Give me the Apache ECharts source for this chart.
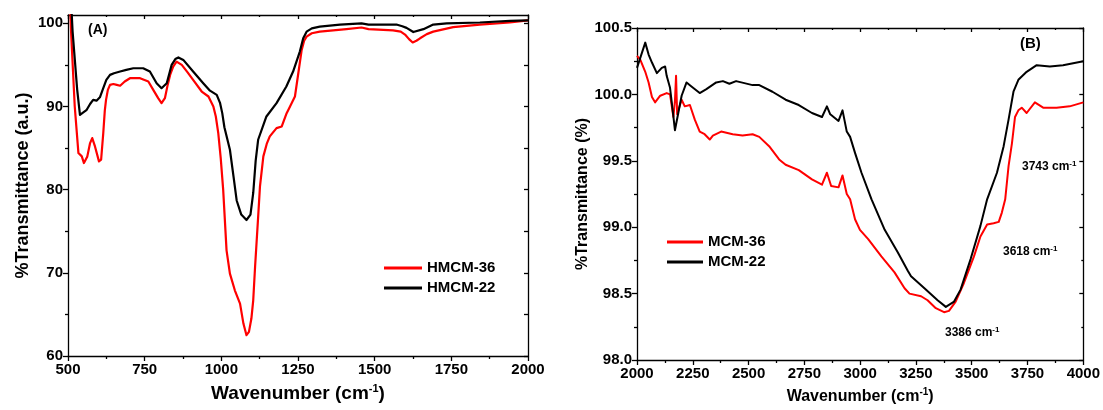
<!DOCTYPE html>
<html>
<head>
<meta charset="utf-8">
<script src="https://cdn.jsdelivr.net/npm/echarts@6/dist/echarts.min.js"></script>
<style>
html,body{margin:0;padding:0;background:#fff;}
#chart{width:1103px;height:410px;}
</style>
</head>
<body>
<div id="chart"></div>
<script>
// ---- Panel A (500-2000 cm-1) ----
const hmcm36Wn = [500, 510, 522, 534, 545, 552, 563, 572, 579, 588, 601, 608, 615, 620, 624, 630, 637, 648, 659, 670, 685, 702, 735, 762, 778, 794, 805, 816, 825, 833, 843, 854, 871, 890, 908, 936, 958, 974, 982, 990, 998, 1006, 1017, 1028, 1044, 1061, 1072, 1082, 1090, 1098, 1104, 1110, 1120, 1126, 1137, 1148, 1158, 1180, 1197, 1213, 1224, 1240, 1251, 1262, 1270, 1278, 1295, 1321, 1408, 1457, 1480, 1560, 1585, 1599, 1612, 1624, 1636, 1648, 1670, 1691, 1756, 1843, 1941, 2000];
const hmcm36T  = [110, 99, 90, 84.4, 84.0, 83.2, 84.0, 85.6, 86.2, 85.2, 83.4, 83.6, 86.8, 89.5, 90.8, 92.0, 92.6, 92.7, 92.6, 92.5, 93.0, 93.4, 93.4, 93.0, 92.0, 91.0, 90.4, 91.0, 92.6, 93.8, 94.8, 95.4, 95.0, 94.1, 93.2, 91.8, 91.2, 90.0, 88.8, 86.8, 83.8, 80.0, 72.7, 69.9, 67.9, 66.3, 63.9, 62.5, 62.9, 64.5, 66.7, 70.7, 76.7, 80.4, 84.0, 85.5, 86.4, 87.4, 87.6, 89.2, 90.0, 91.2, 94.0, 96.8, 97.9, 98.4, 98.8, 99.0, 99.3, 99.5, 99.3, 99.15, 99.0, 98.65, 98.1, 97.7, 97.9, 98.2, 98.7, 99.0, 99.55, 99.85, 100.1, 100.35];
const hmcm22Wn = [500, 515, 530, 539, 550, 561, 572, 582, 593, 604, 615, 625, 637, 650, 670, 690, 713, 745, 767, 789, 805, 822, 838, 850, 860, 876, 908, 941, 963, 985, 996, 1003, 1010, 1028, 1040, 1050, 1065, 1082, 1095, 1104, 1112, 1120, 1147, 1180, 1212, 1234, 1256, 1267, 1278, 1295, 1321, 1387, 1457, 1480, 1571, 1590, 1604, 1626, 1659, 1691, 1735, 1843, 1941, 2000];
const hmcm22T  = [110, 99, 92, 89.0, 89.3, 89.6, 90.3, 90.8, 90.7, 91.1, 92.2, 93.2, 93.8, 94.0, 94.2, 94.4, 94.6, 94.6, 94.2, 92.8, 92.2, 92.8, 95.0, 95.7, 95.9, 95.6, 94.2, 92.8, 91.9, 91.4, 90.4, 89.2, 87.5, 84.8, 81.5, 78.7, 77.0, 76.35, 77.0, 79.6, 83.5, 86.0, 88.8, 90.4, 92.4, 94.2, 96.6, 98.2, 99.0, 99.4, 99.6, 99.85, 100.0, 99.85, 99.85, 99.65, 99.45, 98.95, 99.3, 99.85, 100.0, 100.1, 100.3, 100.35];

// ---- Panel B (2000-4000 cm-1) ----
const mcm36Wn = [2000, 2015, 2037, 2052, 2067, 2081, 2104, 2133, 2148, 2163, 2170, 2175, 2180, 2185, 2200, 2214, 2237, 2259, 2281, 2303, 2326, 2340, 2377, 2429, 2473, 2518, 2548, 2592, 2637, 2666, 2725, 2784, 2829, 2851, 2870, 2903, 2921, 2940, 2955, 2977, 2999, 3036, 3095, 3154, 3199, 3221, 3273, 3302, 3339, 3376, 3398, 3428, 3465, 3510, 3539, 3569, 3598, 3621, 3635, 3650, 3665, 3680, 3694, 3709, 3724, 3746, 3783, 3820, 3880, 3939, 4000];
const mcm36T  = [100.29, 100.26, 100.17, 100.09, 99.98, 99.94, 99.99, 100.01, 100.0, 99.83, 99.95, 100.14, 99.85, 99.88, 99.96, 99.91, 99.92, 99.81, 99.72, 99.70, 99.66, 99.69, 99.72, 99.70, 99.69, 99.70, 99.68, 99.61, 99.51, 99.47, 99.43, 99.36, 99.32, 99.41, 99.31, 99.30, 99.39, 99.25, 99.21, 99.06, 98.98, 98.91, 98.78, 98.66, 98.54, 98.50, 98.48, 98.45, 98.39, 98.36, 98.37, 98.44, 98.58, 98.78, 98.93, 99.02, 99.03, 99.04, 99.11, 99.21, 99.46, 99.63, 99.83, 99.88, 99.90, 99.86, 99.94, 99.90, 99.90, 99.91, 99.94];
const mcm22Wn = [2000, 2037, 2052, 2067, 2089, 2111, 2126, 2133, 2148, 2160, 2170, 2185, 2200, 2222, 2244, 2281, 2311, 2355, 2385, 2414, 2444, 2518, 2548, 2607, 2666, 2725, 2784, 2829, 2851, 2866, 2903, 2921, 2940, 2955, 2977, 3006, 3051, 3110, 3169, 3214, 3228, 3288, 3347, 3384, 3421, 3450, 3495, 3539, 3569, 3613, 3643, 3665, 3687, 3709, 3746, 3791, 3850, 3909, 4000];
const mcm22T  = [100.2, 100.39, 100.30, 100.24, 100.16, 100.2, 100.21, 100.14, 100.05, 99.88, 99.73, 99.86, 99.99, 100.09, 100.06, 100.01, 100.04, 100.09, 100.10, 100.08, 100.10, 100.07, 100.07, 100.02, 99.96, 99.92, 99.86, 99.83, 99.91, 99.85, 99.80, 99.88, 99.72, 99.68, 99.56, 99.41, 99.21, 98.98, 98.81, 98.67, 98.63, 98.54, 98.45, 98.40, 98.44, 98.53, 98.76, 99.01, 99.21, 99.41, 99.61, 99.81, 100.02, 100.11, 100.17, 100.22, 100.21, 100.22, 100.25];

const yTicksA = [60, 70, 80, 90, 100];
const yMinorA = [65, 75, 85, 95];
const annotationsB = [
  {wn: '3743', left: 1022, top: 160},
  {wn: '3618', left: 1003, top: 245},
  {wn: '3386', left: 945, top: 326}
];

const zip = (a, b) => a.map((v, i) => [v, b[i]]);
const FONT = '"Liberation Sans", Arial, sans-serif';
const axisLineStyle = {color: '#000', width: 1.3};

function mainX(grid, min, max, interval, name, nameSize) {
  return {
    type: 'value', gridIndex: grid, min: min, max: max, interval: interval,
    position: 'bottom',
    axisLine: {show: true, lineStyle: axisLineStyle},
    axisTick: {show: true, inside: false, length: 5, lineStyle: axisLineStyle},
    minorTick: {show: true, splitNumber: 2, length: 3, lineStyle: axisLineStyle},
    axisLabel: {color: '#000', fontFamily: FONT, fontWeight: 'bold', fontSize: 15, margin: 6,
      formatter: v => String(v)},
    splitLine: {show: false},
    name: name, nameLocation: 'middle', nameGap: 27,
    nameTextStyle: {color: '#000', fontFamily: FONT, fontWeight: 'bold', fontSize: nameSize,
      rich: {sup: {fontSize: Math.round(nameSize * 0.6), fontWeight: 'bold', fontFamily: FONT, color: '#000', verticalAlign: 'top', padding: [0, 0, nameSize * 0.55, 0]}}}
  };
}
function mirrorX(grid, min, max, interval) {
  return {
    type: 'value', gridIndex: grid, min: min, max: max, interval: interval, position: 'top',
    axisLine: {show: true, lineStyle: axisLineStyle},
    axisTick: {show: true, inside: true, length: 4, lineStyle: axisLineStyle},
    minorTick: {show: true, splitNumber: 2, length: 2, lineStyle: axisLineStyle},
    axisLabel: {show: false}, splitLine: {show: false}
  };
}

const option = {
  animation: false,
  backgroundColor: '#fff',
  grid: [
    {left: 68, top: 15, width: 460, height: 341},
    {left: 637, top: 28, width: 450, height: 332}
  ],
  xAxis: [
    mainX(0, 500, 2000, 250, 'Wavenumber (cm{sup|-1})', 19),
    mirrorX(0, 500, 2000, 250),
    mainX(1, 2000, 4000, 250, 'Wavenumber (cm{sup|-1})', 16),
    mirrorX(1, 2000, 4000, 250)
  ],
  yAxis: [
    {
      type: 'value', gridIndex: 0, min: 60, max: 101, position: 'left',
      axisLine: {show: true, lineStyle: axisLineStyle},
      axisTick: {show: true, inside: false, length: 5, lineStyle: axisLineStyle, customValues: yTicksA},
      axisLabel: {color: '#000', fontFamily: FONT, fontWeight: 'bold', fontSize: 15, margin: 5, customValues: yTicksA},
      splitLine: {show: false},
      name: '%Transmittance (a.u.)', nameLocation: 'middle', nameGap: 36,
      nameTextStyle: {color: '#000', fontFamily: FONT, fontWeight: 'bold', fontSize: 18}
    },
    {
      type: 'value', gridIndex: 0, min: 60, max: 101, position: 'left',
      axisLine: {show: false},
      axisTick: {show: true, inside: false, length: 3, lineStyle: axisLineStyle, customValues: yMinorA},
      axisLabel: {show: false, customValues: []}, splitLine: {show: false}
    },
    {
      type: 'value', gridIndex: 0, min: 60, max: 101, position: 'right',
      axisLine: {show: true, lineStyle: axisLineStyle},
      axisTick: {show: true, inside: true, length: 4, lineStyle: axisLineStyle, customValues: yMinorA.concat(yTicksA)},
      axisLabel: {show: false, customValues: []}, splitLine: {show: false}
    },
    {
      type: 'value', gridIndex: 1, min: 98, max: 100.5, interval: 0.5, position: 'left',
      axisLine: {show: true, lineStyle: axisLineStyle},
      axisTick: {show: true, inside: false, length: 5, lineStyle: axisLineStyle},
      minorTick: {show: true, splitNumber: 2, length: 3, lineStyle: axisLineStyle},
      axisLabel: {color: '#000', fontFamily: FONT, fontWeight: 'bold', fontSize: 15, margin: 5,
        formatter: v => v.toFixed(1)},
      splitLine: {show: false},
      name: '%Transmittance (%)', nameLocation: 'middle', nameGap: 43,
      nameTextStyle: {color: '#000', fontFamily: FONT, fontWeight: 'bold', fontSize: 16}
    },
    {
      type: 'value', gridIndex: 1, min: 98, max: 100.5, interval: 0.5, position: 'right',
      axisLine: {show: true, lineStyle: axisLineStyle},
      axisTick: {show: true, inside: true, length: 4, lineStyle: axisLineStyle},
      minorTick: {show: true, splitNumber: 2, length: 2, lineStyle: axisLineStyle},
      axisLabel: {show: false}, splitLine: {show: false}
    }
  ],
  legend: [
    {
      data: ['HMCM-36', 'HMCM-22'], orient: 'vertical', left: 379, top: 253,
      itemWidth: 38, itemHeight: 3, itemGap: 0, icon: 'rect',
      textStyle: {color: '#000', fontFamily: FONT, fontWeight: 'bold', fontSize: 15, lineHeight: 20}
    },
    {
      data: ['MCM-36', 'MCM-22'], orient: 'vertical', left: 662, top: 227,
      itemWidth: 36, itemHeight: 3, itemGap: 0, icon: 'rect',
      textStyle: {color: '#000', fontFamily: FONT, fontWeight: 'bold', fontSize: 15, lineHeight: 20}
    }
  ],
  series: [
    {name: 'HMCM-36', type: 'line', xAxisIndex: 0, yAxisIndex: 0, data: zip(hmcm36Wn, hmcm36T),
      showSymbol: false, smooth: false, clip: true, lineStyle: {color: '#ff0000', width: 2.2, join: 'round'}, itemStyle: {color: '#ff0000'}},
    {name: 'HMCM-22', type: 'line', xAxisIndex: 0, yAxisIndex: 0, data: zip(hmcm22Wn, hmcm22T),
      showSymbol: false, smooth: false, clip: true, lineStyle: {color: '#000', width: 2.2, join: 'round'}, itemStyle: {color: '#000'}},
    {name: 'MCM-36', type: 'line', xAxisIndex: 2, yAxisIndex: 3, data: zip(mcm36Wn, mcm36T),
      showSymbol: false, smooth: false, clip: true, lineStyle: {color: '#ff0000', width: 2, join: 'round'}, itemStyle: {color: '#ff0000'}},
    {name: 'MCM-22', type: 'line', xAxisIndex: 2, yAxisIndex: 3, data: zip(mcm22Wn, mcm22T),
      showSymbol: false, smooth: false, clip: true, lineStyle: {color: '#000', width: 2, join: 'round'}, itemStyle: {color: '#000'}}
  ],
  graphic: [
    {type: 'text', left: 88, top: 23, style: {text: '(A)', fill: '#000', font: 'bold 14px ' + FONT}},
    {type: 'text', left: 1020, top: 36, style: {text: '(B)', fill: '#000', font: 'bold 15px ' + FONT}}
  ].concat(annotationsB.map(a => ({
    type: 'text', left: a.left, top: a.top,
    style: {text: a.wn + ' cm{sup|-1}', fill: '#000', fontFamily: FONT, fontWeight: 'bold', fontSize: 12,
      rich: {sup: {fontSize: 8, fontWeight: 'bold', fontFamily: FONT, fill: '#000', verticalAlign: 'top', padding: [0, 0, 6, 0]}}}
  })))
};

const chart = echarts.init(document.getElementById('chart'), null, {renderer: 'canvas'});
chart.setOption(option);
</script>
</body>
</html>
